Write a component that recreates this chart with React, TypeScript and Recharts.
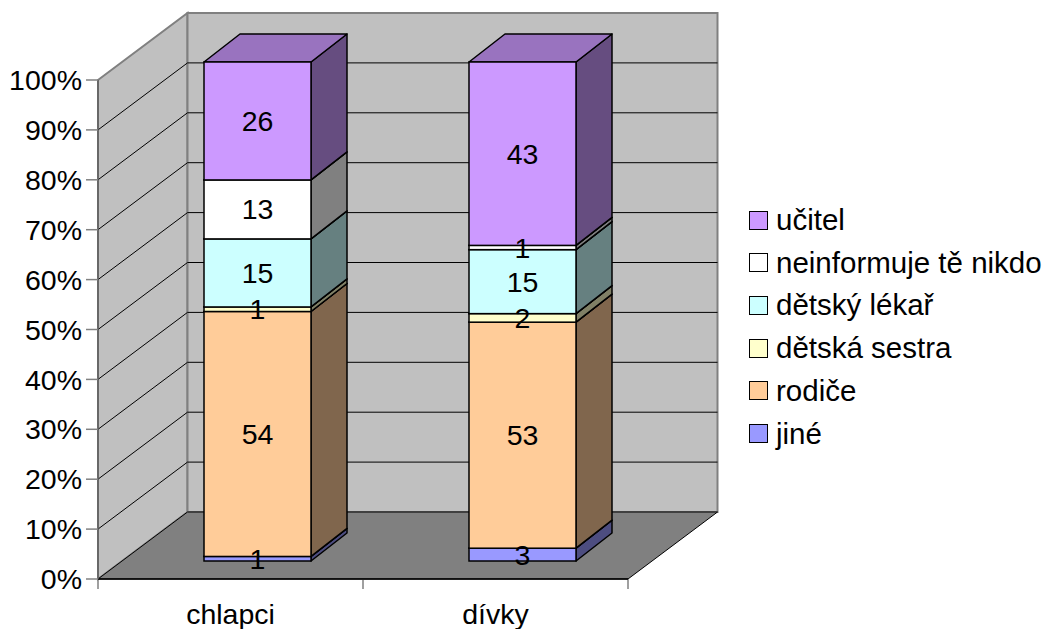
import React from "react";
import { BarChart, Bar, XAxis, YAxis, CartesianGrid } from "recharts";

const categories = ["chlapci", "dívky"];
const seriesNames = ["jiné", "rodiče", "dětská sestra", "dětský lékař", "neinformuje tě nikdo", "učitel"];
const seriesColors = ["#9999FF", "#FFCC99", "#FFFFCC", "#CCFFFF", "#FFFFFF", "#CC99FF"];

const jine = [1, 3];
const rodice = [54, 53];
const sestra = [1, 2];
const lekar = [15, 15];
const neinformuje = [13, 1];
const ucitel = [26, 43];

const yTicks = [0, 0.1, 0.2, 0.3, 0.4, 0.5, 0.6, 0.7, 0.8, 0.9, 1];

const seriesValues = [jine, rodice, sestra, lekar, neinformuje, ucitel];
const keys = seriesValues.map((_, s) => `s${s}`);

const data = categories.map((name, i) => {
  const row: Record<string, any> = { name };
  seriesValues.forEach((vals, s) => (row[keys[s]] = vals[i]));
  return row;
});

const FONT = "'Liberation Sans', Arial, sans-serif";
const FS = 28.5;
const LEGEND_FS = 29.5;

// 3D depth of the walls, and where the bars sit inside it
const WALL_DX = 89.5;
const WALL_DY = -67;
const BAR_DX = 27;
const BAR_DY = -18;
const BOX_DX = 36;
const BOX_DY = -28;

function shade(hex: string, f: number) {
  const n = parseInt(hex.slice(1), 16);
  const c = [(n >> 16) & 255, (n >> 8) & 255, n & 255].map((v) => Math.round(v * f));
  return `rgb(${c[0]},${c[1]},${c[2]})`;
}

const pts = (p: number[][]) => p.map((q) => q.join(",")).join(" ");

function gridLine(p: any) {
  const { x1, x2, y1, index } = p;
  const top = p.y ?? 80;
  const bottom = top + (p.height ?? 499);
  const n = categories.length;
  const edge = Math.abs(y1 - top) < 1 || Math.abs(y1 - bottom) < 1;
  return (
    <g key={`grid-${index}`}>
      {index === 0 && (
        <g>
          <polygon
            points={pts([[x1, top], [x1 + WALL_DX, top + WALL_DY], [x1 + WALL_DX, bottom + WALL_DY], [x1, bottom]])}
            fill="#C0C0C0" stroke="#808080" strokeWidth={2}
          />
          <polygon
            points={pts([[x1 + WALL_DX, top + WALL_DY], [x2 + WALL_DX, top + WALL_DY], [x2 + WALL_DX, bottom + WALL_DY], [x1 + WALL_DX, bottom + WALL_DY]])}
            fill="#C0C0C0" stroke="#808080" strokeWidth={2}
          />
          <polygon
            points={pts([[x1, bottom], [x2, bottom], [x2 + WALL_DX, bottom + WALL_DY], [x1 + WALL_DX, bottom + WALL_DY]])}
            fill="#808080" stroke="#000" strokeWidth={1}
          />
          {Array.from({ length: n + 1 }, (_, k) => {
            const tx = x1 + (k * (x2 - x1)) / n;
            return <line key={k} x1={tx} y1={bottom} x2={tx} y2={bottom + 10} stroke="#808080" strokeWidth={1.5} />;
          })}
        </g>
      )}
      {!edge && (
        <g>
          <line x1={x1} y1={y1} x2={x1 + WALL_DX} y2={y1 + WALL_DY} stroke="#000" strokeWidth={1} />
          <line x1={x1 + WALL_DX} y1={y1 + WALL_DY} x2={x2 + WALL_DX} y2={y1 + WALL_DY} stroke="#000" strokeWidth={1} />
        </g>
      )}
    </g>
  );
}

function makeShape(s: number) {
  const color = seriesColors[s];
  return (props: any) => {
    const { x, y, width, height, payload, value } = props;
    if (width == null || height == null) return <g />;
    const fx = x + BAR_DX;
    const fy = y + BAR_DY;
    const w = width;
    const h = Math.max(height, 0);
    const box = (
      <g>
        <polygon
          points={pts([[fx + w, fy], [fx + w + BOX_DX, fy + BOX_DY], [fx + w + BOX_DX, fy + h + BOX_DY], [fx + w, fy + h]])}
          fill={shade(color, 0.5)} stroke="#000" strokeWidth={1.5} strokeLinejoin="round"
        />
        <polygon
          points={pts([[fx, fy], [fx + BOX_DX, fy + BOX_DY], [fx + w + BOX_DX, fy + BOX_DY], [fx + w, fy]])}
          fill={shade(color, 0.75)} stroke="#000" strokeWidth={1.5} strokeLinejoin="round"
        />
        <rect x={fx} y={fy} width={w} height={h} fill={color} stroke="#000" strokeWidth={1.5} />
      </g>
    );
    if (s !== keys.length - 1 || !Array.isArray(value)) return box;
    // top series: draw all value labels of this stack so they sit above every segment
    const [lo, hi] = value;
    const k = h / (hi - lo);
    const yZero = y + h + lo * k;
    const total = keys.reduce((a, key) => a + (payload[key] || 0), 0);
    let cum = 0;
    const labels = keys.map((key, i) => {
      const v = payload[key] || 0;
      const mid = (cum + v / 2) / total;
      cum += v;
      if (!v) return null;
      return (
        <text
          key={i}
          x={fx + w / 2}
          y={yZero - mid * k + BAR_DY}
          dy="0.35em"
          textAnchor="middle"
          fontFamily={FONT}
          fontSize={FS}
          fill="#000"
        >
          {v}
        </text>
      );
    });
    return (
      <g>
        {box}
        {labels}
      </g>
    );
  };
}

export default function App() {
  return (
    <div style={{ position: "absolute", left: 0, top: 0, width: 1050, height: 629, background: "#fff" }}>
      <BarChart
        width={1050}
        height={629}
        data={data}
        stackOffset="expand"
        barSize={107}
        margin={{ top: 80, right: 422, bottom: 0, left: 0 }}
      >
        <CartesianGrid horizontal={gridLine} vertical={false} />
        <XAxis
          dataKey="name"
          height={50}
          tickLine={false}
          tickSize={0}
          tickMargin={25}
          axisLine={{ stroke: "#000", strokeWidth: 1.5 }}
          tick={{ fill: "#000", fontSize: FS, fontFamily: FONT }}
        />
        <YAxis
          width={98}
          domain={[0, 1]}
          ticks={yTicks}
          tickFormatter={(v: number) => `${Math.round(v * 100)}%`}
          tickSize={12}
          tickMargin={4}
          tickLine={{ stroke: "#808080", strokeWidth: 1.5 }}
          axisLine={{ stroke: "#606060", strokeWidth: 1.5 }}
          tick={{ fill: "#000", fontSize: FS, fontFamily: FONT }}
          interval={0}
        />
        {keys.map((key, s) => (
          <Bar
            key={key}
            dataKey={key}
            name={seriesNames[s]}
            stackId="a"
            fill={seriesColors[s]}
            shape={makeShape(s)}
            isAnimationActive={false}
          />
        ))}
      </BarChart>
      <div style={{ position: "absolute", left: 749, top: 0, fontFamily: FONT, fontSize: LEGEND_FS }}>
        {seriesNames
          .map((name, s) => ({ name, color: seriesColors[s] }))
          .reverse()
          .map((item, i) => (
            <div
              key={item.name}
              style={{
                position: "absolute",
                left: 0,
                top: 220 + i * 42.7 - 16,
                height: 32,
                display: "flex",
                alignItems: "center",
                whiteSpace: "nowrap",
              }}
            >
              <span
                style={{
                  display: "inline-block",
                  width: 17,
                  height: 17,
                  background: item.color,
                  border: "1.5px solid #000",
                  marginRight: 8,
                }}
              />
              <span style={{ lineHeight: "32px" }}>{item.name}</span>
            </div>
          ))}
      </div>
    </div>
  );
}
